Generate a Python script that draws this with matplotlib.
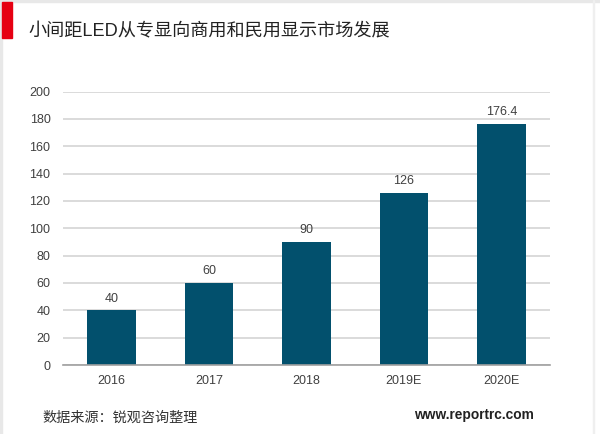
import matplotlib.pyplot as plt
from matplotlib.patches import Rectangle

plt.rcParams['font.family'] = ['Liberation Sans', 'Noto Sans CJK SC', 'DejaVu Sans']

years = ['2016', '2017', '2018', '2019E', '2020E']
values = [40, 60, 90, 126, 176.4]
value_labels = ['40', '60', '90', '126', '176.4']
y_ticks = list(range(0, 201, 20))

W, H = 600, 434
fig = plt.figure(figsize=(W / 100, H / 100), dpi=100, facecolor='white')

# pixel position of the plot area
left, right, top, bottom = 63, 550, 91.5, 365
ax = fig.add_axes([left / W, 1 - bottom / H, (right - left) / W, (bottom - top) / H])

ax.bar(range(len(years)), values, width=0.5, color='#02506d', zorder=3)
ax.set_xlim(-0.5, 4.5)
ax.set_ylim(0, 200)
ax.set_xticks(range(len(years)))
ax.set_xticklabels(years)
ax.set_yticks(y_ticks)
ax.tick_params(length=0, labelsize=9, labelcolor='#404040')
ax.tick_params(axis='x', pad=7)
ax.tick_params(axis='y', pad=9)
ax.grid(axis='y', color='#d4d4d4', linewidth=1.2, zorder=0)
ax.set_axisbelow(True)

for spine in ['top', 'right', 'left']:
    ax.spines[spine].set_visible(False)
ax.spines['bottom'].set_color('#a0a0a0')
ax.spines['bottom'].set_linewidth(1.2)
ax.spines['bottom'].set_zorder(4)

for i, v in enumerate(values):
    ax.annotate(value_labels[i], (i, v), xytext=(0, 4), textcoords='offset points',
                ha='center', va='bottom', fontsize=9, color='#404040')

# frame of the slide and red marker
fig.add_artist(Rectangle((0, 1 - 2 / H), 1, 2 / H, transform=fig.transFigure, color='#e8e8e8'))
fig.add_artist(Rectangle((0, 0), 1.5 / W, 1, transform=fig.transFigure, color='#e8e8e8'))
fig.add_artist(Rectangle((593 / W, 0), 1 / W, 1, transform=fig.transFigure, color='#efefef'))
fig.add_artist(Rectangle((2 / W, 1 - 38 / H), 10 / W, 36 / H, transform=fig.transFigure, color='#e60012'))

fig.text(28 / W, 1 - 32 / H, '小间距LED从专显向商用和民用显示市场发展', fontsize=13.1,
         color='#222222', va='center', ha='left')
fig.text(42 / W, 1 - 418 / H, '数据来源:锐观咨询整理'.replace(':', '：'), fontsize=10.2, color='#333333',
         va='center', ha='left')
fig.text(534 / W, 1 - 415 / H, 'www.reportrc.com', fontsize=9.9, fontweight='bold',
         color='#222222', va='center', ha='right')

fig.savefig('out.png', dpi=100)
